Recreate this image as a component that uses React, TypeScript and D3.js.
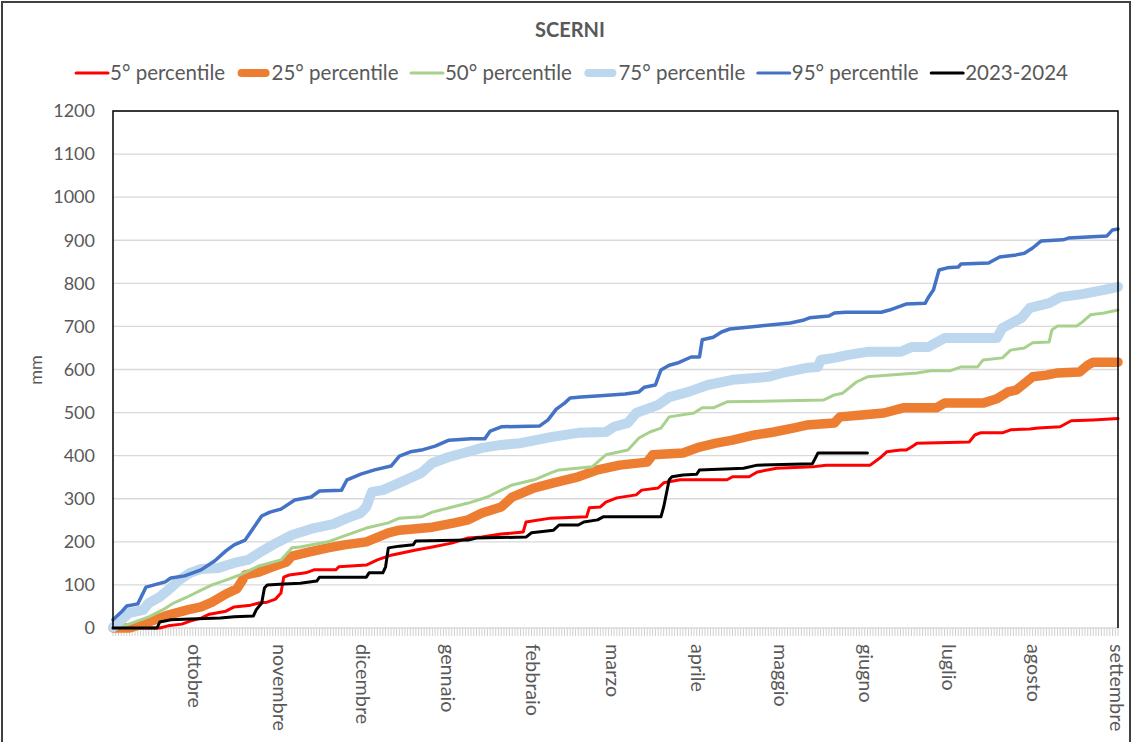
import React from 'react';
import * as d3 from 'd3';

const W = 1132;
const H = 742;

// ---- data (day index from 1 Sept, cumulative mm) ----
const p5: [number, number][] = [
  [0,0],[17,0],[20,5],[25,9],[28,16],[32,23],[35,32],[41,39],[44,49],[50,53],[53,58],[56,60],[59,67],[61,81],[62,118],[64,123],[70,128],[73,135],[81,135],[82,142],[92,146],[96,158],[101,169],[110,181],[116,188],[123,197],[129,209],[134,211],[141,218],[149,223],[150,246],[159,255],[172,258],[173,279],[177,281],[179,292],[183,302],[190,309],[192,320],[198,325],[200,337],[206,344],[223,344],[225,351],[231,351],[234,362],[241,371],[254,374],[259,378],[275,378],[279,397],[281,409],[286,413],[288,413],[290,420],[292,429],[311,432],[313,448],[315,453],[323,453],[326,460],[333,462],[336,464],[344,467],[346,474],[348,481],[356,483],[365,486]
];
const p25: [number, number][] = [
  [0,0],[6,0],[13,14],[20,30],[27,42],[32,49],[36,60],[41,79],[45,91],[47,111],[48,123],[53,130],[58,142],[63,153],[65,167],[71,176],[78,186],[84,193],[92,200],[100,221],[104,227],[116,234],[124,244],[129,251],[134,267],[141,281],[145,304],[153,325],[160,337],[169,351],[176,367],[184,378],[194,385],[196,402],[207,406],[213,420],[219,429],[225,436],[233,448],[240,455],[247,464],[252,471],[262,476],[264,490],[271,494],[280,499],[287,511],[299,511],[302,522],[316,522],[321,532],[325,548],[328,552],[334,583],[339,587],[343,592],[351,594],[354,610],[356,617],[365,617]
];
const p50: [number, number][] = [
  [0,0],[4,5],[7,12],[13,26],[18,42],[22,58],[27,72],[32,88],[36,100],[41,111],[46,123],[49,132],[53,144],[61,158],[65,186],[68,188],[78,200],[82,209],[92,232],[100,244],[104,255],[112,258],[116,269],[129,290],[136,304],[141,320],[145,332],[153,344],[159,360],[162,367],[174,374],[179,402],[187,413],[191,441],[195,455],[199,464],[202,490],[211,499],[214,511],[218,511],[223,525],[258,529],[262,541],[265,545],[270,571],[274,583],[292,592],[297,597],[304,597],[308,606],[314,606],[316,622],[323,627],[326,645],[331,650],[334,662],[340,664],[341,692],[343,701],[350,701],[352,710],[355,727],[360,731],[365,738]
];
const p75: [number, number][] = [
  [0,2],[3,19],[6,35],[11,42],[13,58],[17,72],[21,93],[24,111],[28,128],[32,137],[38,139],[44,151],[49,158],[53,174],[58,193],[65,216],[73,232],[80,241],[85,255],[90,267],[92,281],[94,316],[98,320],[104,337],[112,360],[116,383],[122,397],[129,409],[134,418],[141,425],[148,429],[159,443],[169,453],[179,455],[182,467],[187,476],[190,499],[198,518],[202,536],[209,548],[216,564],[225,576],[238,583],[243,592],[252,604],[256,606],[257,622],[262,627],[267,634],[274,641],[286,641],[290,652],[296,652],[302,673],[321,673],[323,696],[330,720],[333,743],[340,754],[344,768],[352,775],[360,785],[365,792]
];
const p95: [number, number][] = [
  [0,19],[3,37],[5,51],[9,56],[12,95],[15,100],[19,107],[21,116],[26,121],[32,135],[37,156],[41,179],[44,193],[48,204],[51,232],[54,260],[57,269],[61,276],[66,297],[72,304],[75,318],[83,320],[85,344],[90,357],[95,367],[101,376],[104,399],[108,409],[112,413],[117,422],[122,436],[130,439],[135,439],[137,457],[141,467],[155,469],[158,483],[161,508],[164,522],[166,534],[170,536],[177,539],[186,543],[191,548],[193,559],[197,564],[199,599],[202,610],[205,615],[210,629],[213,629],[214,669],[218,675],[221,687],[224,694],[235,701],[246,708],[251,715],[253,720],[260,724],[262,731],[266,733],[279,733],[282,738],[286,747],[288,752],[295,754],[296,766],[298,785],[299,808],[300,831],[303,836],[307,838],[308,845],[318,847],[320,854],[322,861],[328,866],[331,870],[334,882],[337,898],[345,901],[347,905],[361,910],[363,924],[365,926]
];
const current: [number, number][] = [
  [0,0],[16,0],[17,14],[21,19],[28,21],[39,23],[44,26],[51,28],[52,42],[54,58],[55,93],[56,100],[62,102],[68,104],[74,109],[75,118],[92,118],[93,128],[98,128],[99,142],[100,186],[104,190],[109,193],[110,202],[129,204],[132,209],[150,211],[152,221],[160,227],[162,239],[169,239],[171,246],[176,251],[178,258],[199,258],[200,281],[202,344],[203,351],[207,355],[212,357],[213,367],[229,371],[234,378],[254,381],[256,406],[274,406]
];

const seriesNames = ['5° percentile', '25° percentile', '50° percentile', '75° percentile', '95° percentile', '2023-2024'];
const seriesData = [p5, p25, p50, p75, p95, current];
const seriesColors = ['#FF0000', '#ED7D31', '#A9D18E', '#BDD7EE', '#4472C4', '#000000'];
const seriesWidths = [3, 9.5, 3, 10, 3.5, 3];
const legendWidths = [3, 8, 3, 8, 3, 3];

const yTicks = [0, 100, 200, 300, 400, 500, 600, 700, 800, 900, 1000, 1100, 1200];
const monthLabels = ['ottobre', 'novembre', 'dicembre', 'gennaio', 'febbraio', 'marzo', 'aprile', 'maggio', 'giugno', 'luglio', 'agosto', 'settembre'];
const monthDays = [30, 61, 91, 122, 153, 182, 213, 243, 274, 304, 335, 365];
const dayCount = 366;

const FONT = 'Lato, "Open Sans", sans-serif';
const TXT = '#595959';

function measure(text: string, font: string): number {
  const c = document.createElement('canvas').getContext('2d');
  if (!c) return text.length * 9;
  c.font = font;
  return c.measureText(text).width;
}

export default function App() {
  const L = 113, R = 1118, T = 111, B = 628;
  const x = d3.scaleLinear().domain([0, dayCount - 1]).range([L, R]);
  const y = d3.scaleLinear().domain([0, 1200]).range([B, T]);
  const line = d3.line<[number, number]>().x(d => x(d[0])).y(d => y(d[1]));

  const legendFontSize = 20.5;
  const lineLen = 32;
  const textGap = 2;
  const itemGap = 12.5;
  const widths = seriesNames.map(n => measure(n, `${legendFontSize}px Lato`));
  const total = widths.reduce((a, w) => a + lineLen + textGap + w + itemGap, 0) - itemGap;
  let cursor = 572 - total / 2;
  const legendItems = seriesNames.map((n, i) => {
    const item = { x: cursor, name: n, i };
    cursor += lineLen + textGap + widths[i] + itemGap;
    return item;
  });
  const ly = 73;

  const days = d3.range(dayCount);

  return (
    <svg width={W} height={H} style={{ position: 'absolute', left: 0, top: 0, background: '#fff' }} fontFamily={FONT}>
      <rect x={0} y={0} width={W} height={H} fill="#fff" />
      <rect x={2} y={2} width={W - 4} height={H + 10} fill="none" stroke="#404040" strokeWidth={2} />
      <text x={570} y={37} textAnchor="middle" fontSize={20} fontWeight="bold" fill={TXT}>SCERNI</text>

      {legendItems.map(it => (
        <g key={it.name}>
          <line x1={it.x + (legendWidths[it.i] > 4 ? 4 : 0)} x2={it.x + lineLen - (legendWidths[it.i] > 4 ? 4 : 0)} y1={ly} y2={ly}
            stroke={seriesColors[it.i]} strokeWidth={legendWidths[it.i]} strokeLinecap="round" />
          <text x={it.x + lineLen + textGap} y={ly} dy="0.35em" fontSize={legendFontSize} fill={TXT}>{it.name}</text>
        </g>
      ))}

      {yTicks.map(t => (
        <g key={t}>
          {t > 0 && <line x1={L} x2={R} y1={y(t)} y2={y(t)} stroke="#D9D9D9" strokeWidth={1.3} />}
          <text x={95} y={y(t)} dy="0.35em" textAnchor="end" fontSize={18} fill={TXT}>{t}</text>
        </g>
      ))}
      <text transform={`translate(42,370) rotate(-90)`} textAnchor="middle" fontSize={18} fill={TXT}>mm</text>

      {days.map(d => (
        <line key={d} x1={x(d)} x2={x(d)} y1={B} y2={B + 8} stroke="#D0D0D0" strokeWidth={1} />
      ))}
      <line x1={L} x2={R} y1={B} y2={B} stroke="#D9D9D9" strokeWidth={1.3} />

      {monthLabels.map((m, i) => (
        <text key={m} transform={`translate(${x(monthDays[i])},${B + 16}) rotate(90)`} dominantBaseline="central"
          fontSize={19.8} fill={TXT}>{m}</text>
      ))}

      {seriesData.map((s, i) => (
        <path key={i} d={line(s) || ''} fill="none" stroke={seriesColors[i]} strokeWidth={seriesWidths[i]}
          strokeLinejoin="round" strokeLinecap="round" />
      ))}

      <path d={`M${L},${B} V${T} H${R} V${B}`} fill="none" stroke="#000" strokeWidth={1.5} />
    </svg>
  );
}
